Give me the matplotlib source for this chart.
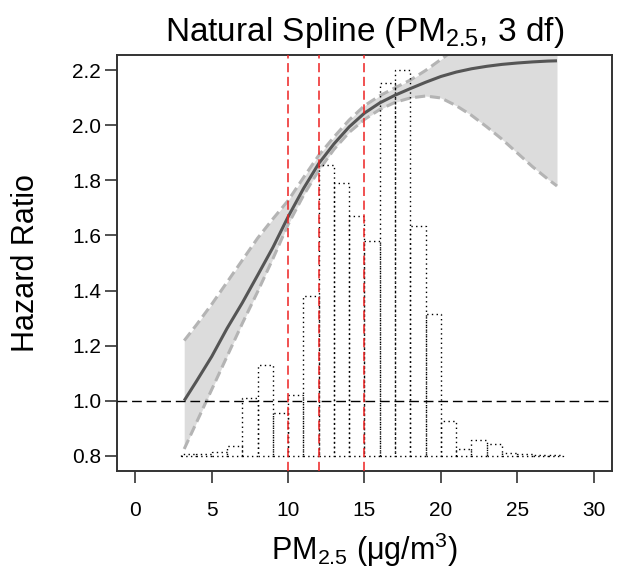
import matplotlib
matplotlib.use("Agg")
import matplotlib.pyplot as plt

plt.rcParams['font.family'] = ['Liberation Sans', 'DejaVu Sans']
plt.rcParams['mathtext.fontset'] = 'custom'
plt.rcParams['mathtext.rm'] = 'Liberation Sans'

# histogram of PM2.5 (bin left edge, bar top in HR units)
bin_left = [3, 4, 5, 6, 7, 8, 9, 10, 11, 12, 13, 14, 15, 16, 17, 18, 19, 20,
            21, 22, 23, 24, 25, 26, 27]
bin_top = [0.805, 0.807, 0.812, 0.833, 1.008, 1.13, 0.955, 1.02, 1.379, 1.858,
           1.79, 1.67, 1.58, 2.155, 2.2, 1.634, 1.313, 0.927, 0.824, 0.858,
           0.842, 0.808, 0.804, 0.803, 0.802]

# fitted spline and 95% CI
pm = [3.2, 4, 5, 6, 7, 8, 9, 10, 11, 12, 13, 14, 15, 16, 17, 18, 19, 20,
      21, 22, 23, 24, 25, 26, 27, 27.6]
hr = [1.0, 1.07, 1.16, 1.262, 1.355, 1.455, 1.556, 1.668, 1.77, 1.861, 1.933,
      1.995, 2.045, 2.082, 2.11, 2.134, 2.157, 2.178, 2.194, 2.206, 2.215,
      2.222, 2.227, 2.231, 2.234, 2.235]
lower = [0.824, 0.92, 1.04, 1.16, 1.28, 1.395, 1.515, 1.64, 1.745, 1.836,
         1.913, 1.975, 2.022, 2.058, 2.084, 2.1, 2.107, 2.1, 2.072, 2.037,
         1.995, 1.95, 1.9, 1.85, 1.805, 1.78]
upper = [1.218, 1.275, 1.35, 1.43, 1.51, 1.59, 1.66, 1.727, 1.81, 1.891,
         1.958, 2.02, 2.072, 2.108, 2.137, 2.165, 2.2, 2.24, 2.28, 2.33, 2.38,
         2.43, 2.48, 2.53, 2.58, 2.62]

cutoffs = [10, 12, 15]

fig = plt.figure(figsize=(6.18, 5.75), dpi=100)
ax = fig.add_axes([0.1893, 0.1809, 0.801, 0.7234])

ax.fill_between(pm, lower, upper, color='#dcdcdc', lw=0, zorder=1)
ax.plot(pm, lower, color='#b4b4b4', lw=2.2, dashes=(3.3, 1.6), zorder=2)
ax.plot(pm, upper, color='#b4b4b4', lw=2.2, dashes=(3.3, 1.6), zorder=2)

heights = [t - 0.8 for t in bin_top]
ax.bar(bin_left, heights, width=1, bottom=0.8, align='edge', fill=False,
       edgecolor='black', linewidth=1.0, linestyle=(0, (1, 2.4)), zorder=3)

ax.plot(pm, hr, color='#555555', lw=2.2, zorder=4, solid_capstyle='butt')

ax.axhline(1.0, color='black', lw=1.0, dashes=(7, 3.5), zorder=5)
for c in cutoffs:
    ax.axvline(c, color='#ee2222', lw=1.1, dashes=(6, 3), zorder=5)

ax.set_xlim(-1.2, 31.2)
ax.set_ylim(0.744, 2.256)
ax.set_xticks([0, 5, 10, 15, 20, 25, 30])
ax.set_yticks([0.8, 1.0, 1.2, 1.4, 1.6, 1.8, 2.0, 2.2])
ax.set_yticklabels(['0.8', '1.0', '1.2', '1.4', '1.6', '1.8', '2.0', '2.2'])
ax.tick_params(axis='x', length=8.5, width=1.2, pad=13, labelsize=15, color='#333333')
ax.tick_params(axis='y', length=8.5, width=1.2, pad=3, labelsize=15, color='#333333')
for s in ax.spines.values():
    s.set_linewidth(1.4)
    s.set_color('#333333')

ax.set_title(r'Natural Spline (PM$_{\mathregular{2.5}}$, 3 df)', fontsize=24, pad=10)
ax.set_xlabel(r'PM$_{\mathregular{2.5}}$ ($\mathregular{\mu}$g/m$^{\mathregular{3}}$)', fontsize=22, labelpad=8)
ax.set_ylabel('Hazard Ratio', fontsize=22, labelpad=22)

fig.savefig('out.png', dpi=100)
